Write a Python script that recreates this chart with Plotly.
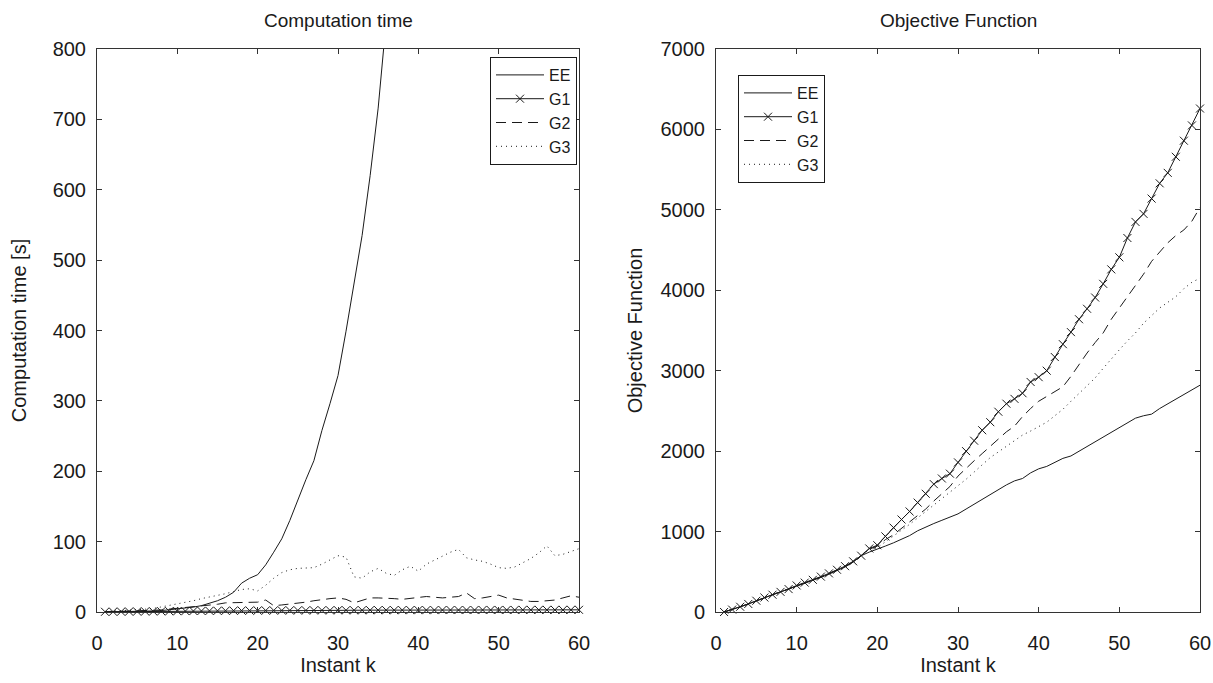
import plotly.graph_objects as go

# ---------------- data ----------------
k_all = list(range(1, 61))
k_ee_time = list(range(1, 37))

time_ee = [0.1, 0.2, 0.3, 0.5, 0.7, 1, 1.5, 2, 3, 4, 5, 7, 9, 12, 16, 21, 28, 41, 48, 53,
           67, 85, 104, 130, 160, 188, 215, 258, 296, 336, 399, 470, 535, 620, 716, 840]
time_g1 = [0.3, 0.4, 0.5, 0.6, 0.7, 0.8, 0.9, 1.0, 1.1, 1.2, 1.3, 1.4, 1.5, 1.6, 1.7, 1.8, 1.9, 2.0, 2.0, 2.1,
           2.1, 2.2, 2.2, 2.3, 2.3, 2.3, 2.4, 2.4, 2.4, 2.5, 2.5, 2.5, 2.5, 2.6, 2.6, 2.6, 2.6, 2.7, 2.7, 2.7,
           2.7, 2.7, 2.8, 2.8, 2.8, 2.8, 2.8, 2.9, 2.9, 2.9, 2.9, 2.9, 3.0, 3.0, 3.0, 3.0, 3.0, 3.0, 3.1, 3.1]
time_g2 = [0.3, 0.5, 0.8, 1, 1.5, 2, 2.5, 3, 4, 5, 6, 7, 8, 9, 11, 13, 13, 13, 13, 14,
           17, 9, 10, 11, 12, 14, 16, 18, 19, 20, 18, 13, 17, 20, 20, 20, 19, 18, 19, 20,
           22, 21, 20, 21, 22, 27, 19, 20, 22, 24, 20, 18, 16, 15, 15, 16, 17, 20, 23, 21]
time_g3 = [0.5, 1, 1.5, 2, 3, 4, 5, 7, 9, 11, 13, 16, 19, 21, 24, 26, 29, 32, 33, 30,
           38, 48, 56, 60, 62, 62, 63, 68, 74, 80, 78, 50, 48, 57, 62, 55, 52, 60, 65, 58,
           68, 74, 80, 85, 89, 77, 74, 72, 68, 63, 62, 64, 70, 76, 84, 94, 80, 82, 86, 90]

obj_ee = [0, 30, 65, 100, 140, 180, 215, 250, 285, 325, 360, 395, 430, 470, 515, 560, 620, 700, 745, 780,
          820, 860, 900, 950, 1010, 1060, 1100, 1140, 1180, 1220, 1280, 1340, 1400, 1470, 1530, 1580, 1630, 1660, 1730, 1780,
          1810, 1860, 1910, 1940, 2000, 2060, 2120, 2180, 2230, 2290, 2350, 2410, 2440, 2460, 2530, 2590, 2640, 2700, 2760, 2820]
obj_g1 = [0, 30, 65, 100, 140, 180, 215, 250, 285, 330, 365, 400, 440, 480, 525, 570, 630, 700, 790, 830,
          940, 1050, 1150, 1250, 1360, 1470, 1590, 1660, 1720, 1860, 2000, 2130, 2260, 2360, 2490, 2590, 2650, 2720, 2860, 2920,
          3000, 3170, 3330, 3480, 3640, 3770, 3910, 4080, 4260, 4410, 4650, 4850, 4950, 5140, 5330, 5460, 5660, 5860, 6050, 6260]
obj_g2 = [0, 30, 65, 100, 140, 180, 215, 250, 285, 328, 363, 398, 436, 476, 520, 565, 625, 700, 780, 820,
          900, 960, 1040, 1120, 1200, 1280, 1380, 1470, 1560, 1690, 1790, 1880, 1970, 2060, 2160, 2240, 2310, 2430, 2530, 2620,
          2680, 2740, 2800, 2930, 3080, 3220, 3350, 3470, 3640, 3780, 3910, 4050, 4200, 4360, 4480, 4590, 4680, 4750, 4860, 5030]
obj_g3 = [0, 30, 65, 100, 140, 180, 215, 250, 285, 327, 362, 397, 433, 473, 518, 562, 622, 700, 780, 800,
          870, 940, 1010, 1090, 1170, 1250, 1330, 1400, 1480, 1570, 1650, 1740, 1830, 1920, 1990, 2060, 2130, 2200, 2250, 2310,
          2360, 2440, 2520, 2620, 2720, 2820, 2910, 3030, 3150, 3260, 3370, 3470, 3590, 3690, 3780, 3850, 3920, 4020, 4100, 4150]

series_names = ["EE", "G1", "G2", "G3"]
x_ticks = [0, 10, 20, 30, 40, 50, 60]
y_ticks_time = [0, 100, 200, 300, 400, 500, 600, 700, 800]
y_ticks_obj = [0, 1000, 2000, 3000, 4000, 5000, 6000, 7000]

# ---------------- styling ----------------
INK = "#1a1a1a"
FONT = "Liberation Sans, Arial, sans-serif"
W, H = 1213, 683

styles = {
    "EE": dict(mode="lines", line=dict(color=INK, width=1)),
    "G1": dict(mode="lines+markers", line=dict(color=INK, width=1),
               marker=dict(symbol="x-thin", size=8, line=dict(color=INK, width=1)), cliponaxis=False),
    "G2": dict(mode="lines", line=dict(color=INK, width=1, dash="10px,6px")),
    "G3": dict(mode="lines", line=dict(color=INK, width=1, dash="1px,4px")),
}

fig = go.Figure()

left_data = {"EE": (k_ee_time, time_ee), "G1": (k_all, time_g1),
             "G2": (k_all, time_g2), "G3": (k_all, time_g3)}
right_data = {"EE": (k_all, obj_ee), "G1": (k_all, obj_g1),
              "G2": (k_all, obj_g2), "G3": (k_all, obj_g3)}

for name in series_names:
    xs, ys = left_data[name]
    fig.add_trace(go.Scatter(x=xs, y=ys, name=name, xaxis="x", yaxis="y",
                             legend="legend", **styles[name]))
for name in series_names:
    xs, ys = right_data[name]
    fig.add_trace(go.Scatter(x=xs, y=ys, name=name, xaxis="x2", yaxis="y2",
                             legend="legend2", **styles[name]))

# plot-area positions (paper coords == pixel fractions because margins are 0)
lx0, lx1 = 97 / W, 579 / W
rx0, rx1 = 716 / W, 1200 / W
yb, yt = 1 - 612 / H, 1 - 49 / H

axis_common = dict(showline=True, linecolor="#333", linewidth=1, mirror="ticks",
                   ticks="inside", ticklen=5, tickcolor="#333", showgrid=False,
                   zeroline=False,
                   tickfont=dict(family=FONT, size=20, color=INK),
                   title_font=dict(family=FONT, size=20, color=INK))

fig.update_layout(
    width=W, height=H,
    margin=dict(l=0, r=0, t=0, b=0, pad=0, autoexpand=False),
    paper_bgcolor="white", plot_bgcolor="white",
    font=dict(family=FONT, color=INK),
    xaxis=dict(domain=[lx0, lx1], anchor="y", range=[0, 60], tickvals=x_ticks, automargin=True,
               title=dict(text="Instant k", standoff=0), ticklabelstandoff=13, **axis_common),
    yaxis=dict(domain=[yb, yt], anchor="x", range=[0, 800], tickvals=y_ticks_time, automargin=False,
               title=dict(text="Computation time [s]", standoff=20), ticklabelstandoff=6, **axis_common),
    xaxis2=dict(domain=[rx0, rx1], anchor="y2", range=[0, 60], tickvals=x_ticks, automargin=True,
                title=dict(text="Instant k", standoff=0), ticklabelstandoff=13, **axis_common),
    yaxis2=dict(domain=[yb, yt], anchor="x2", range=[0, 7000], tickvals=y_ticks_obj, automargin=False,
                title=dict(text="Objective Function", standoff=12), ticklabelstandoff=6, **axis_common),
    legend=dict(x=577 / W, y=1 - 57 / H, xanchor="right", yanchor="top",
                bgcolor="white", bordercolor=INK, borderwidth=1,
                font=dict(family=FONT, size=16, color=INK), itemwidth=48,
                tracegroupgap=0),
    legend2=dict(x=738 / W, y=1 - 75 / H, xanchor="left", yanchor="top",
                 bgcolor="white", bordercolor=INK, borderwidth=1,
                 font=dict(family=FONT, size=16, color=INK), itemwidth=48,
                 tracegroupgap=0),
    annotations=[
        dict(text="Computation time", x=(lx0 + lx1) / 2, y=1 - 20 / H, xref="paper", yref="paper",
             xanchor="center", yanchor="middle", showarrow=False,
             font=dict(family=FONT, size=19, color=INK)),
        dict(text="Objective Function", x=(rx0 + rx1) / 2, y=1 - 20 / H, xref="paper", yref="paper",
             xanchor="center", yanchor="middle", showarrow=False,
             font=dict(family=FONT, size=19, color=INK)),
    ],
)

fig.write_html("out.html")
